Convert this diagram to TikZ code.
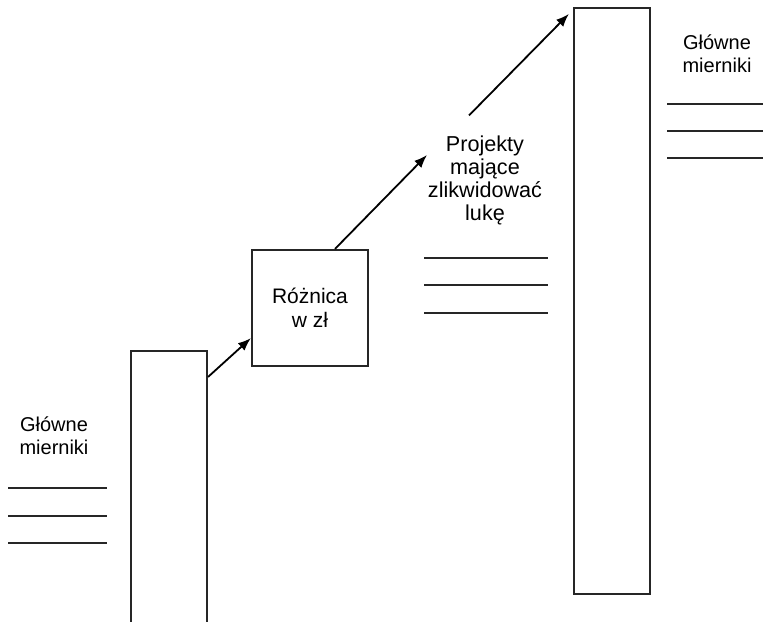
\documentclass[tikz,border=0pt]{standalone}
\usepackage{fontspec}
\setmainfont{Liberation Sans}
\usetikzlibrary{arrows.meta}
\begin{document}
\begin{tikzpicture}
  [x=0.5pt,y=-0.5pt,line width=1pt,
   bar/.style={draw=black!85,line width=1.1pt,minimum width=38pt,inner sep=0},
   box/.style={draw=black!85,line width=1.1pt,minimum width=58pt,minimum height=58pt,inner sep=0,
               align=center,font=\fontsize{10.5}{12}\selectfont},
   lbl/.style={align=center,inner sep=0,font=\fontsize{10}{11.5}\selectfont},
   arr/.style={-{Latex[length=6.5pt,width=5pt]},line width=0.9pt}]
\useasboundingbox (0,0) rectangle (765,621);
  % Barras y caja central
  \node[bar,minimum height=140pt] (lbar) at (169,491) {};
  \node[bar,minimum height=293pt] (rbar) at (612,301) {};
  \node[box] (diff) at (310,308) {Różnica\\w zł};

  % Textos
  \node[lbl] (lleft)  at (54,436)  {Główne\\mierniki};
  \node[lbl] (lright) at (717,54)  {Główne\\mierniki};
  \node[lbl,font=\fontsize{10.8}{11.5}\selectfont] (proj) at (485,180) {Projekty\\mające\\zlikwidować\\lukę};

  % Líneas de los mierniki
  \foreach \y in {488,516,543}
    \draw[black!85] (8,\y) -- (107,\y);
  \foreach \y in {258,285,313}
    \draw[black!85] (424,\y) -- (548,\y);
  \foreach \y in {104,131,158}
    \draw[black!85] (667,\y) -- (763,\y);

  % Flechas
  \draw[arr] ([yshift=-13.5pt]lbar.north east) -- ([yshift=14.5pt]diff.south west);
  \draw[arr] ([xshift=12.5pt]diff.north) -- ([yshift=12.5pt]proj.west);
  \draw[arr] ([shift={(-8pt,9.5pt)}]proj.north) -- ([shift={(-2pt,-3.5pt)}]rbar.north west);
\end{tikzpicture}
\end{document}
